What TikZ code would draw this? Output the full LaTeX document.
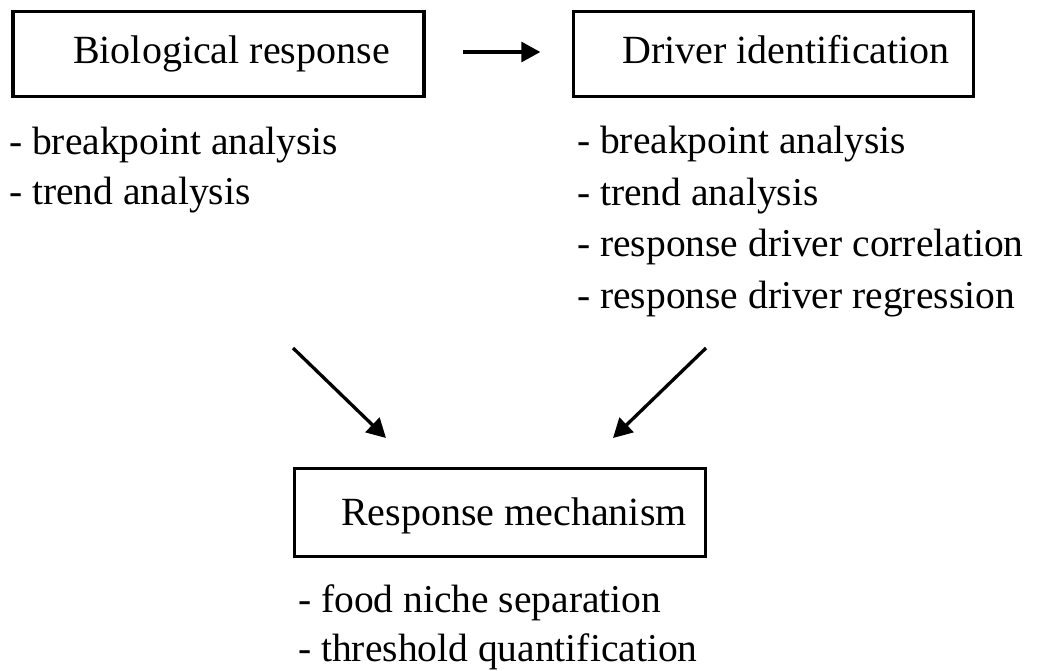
\documentclass[tikz,border=0pt]{standalone}
\usepackage{fontspec}
\setmainfont{Liberation Serif}
\usetikzlibrary{arrows.meta}
\begin{document}
\begin{tikzpicture}[x=1pt, y=-1pt,
  stagebox/.style={draw, line width=3.4pt, inner sep=0pt,
    text height=27pt, text depth=9pt,
    font=\fontsize{40}{48}\selectfont},
  items/.style={anchor=north west, align=left, inner sep=0pt,
    font=\fontsize{39.5}{51.5}\selectfont},
  flow/.style={line width=3.3pt, -{Triangle[length=19pt,width=20pt]}}]
\useasboundingbox (0,0) rectangle (1037,670);

% the three stages
\node[stagebox, minimum width=411pt, minimum height=85pt] (bio) at (218.5,54)
  {\hspace{26pt}Biological response};
\node[stagebox, minimum width=400pt, minimum height=85pt] (drv) at (773.5,54)
  {\hspace{25pt}Driver identification};
\node[stagebox, minimum width=411pt, minimum height=88pt, text depth=2pt] (mech) at (500,512.5)
  {\hspace{28pt}Response mechanism};

% methods under each stage
\node[items] (bioList) at (9,126.5)
  {- breakpoint analysis\\[-1.5pt]- trend analysis};
\node[items] (drvList) at (577,126)
  {- breakpoint analysis\\- trend analysis\\- response driver correlation\\- response driver regression};
\node[items] (mechList) at (298,584.5)
  {- food niche separation\\[-3pt]- threshold quantification};

% connectors
\draw[flow, shorten <=37pt, shorten >=31.5pt]
  ([yshift=2pt]bio.east) -- ([yshift=2pt]drv.west);
\coordinate (bioOut) at (293,348);
\coordinate (bioIn)  at (386,438);
\coordinate (drvOut) at (706,348);
\coordinate (drvIn)  at (613,438);
\draw[flow] (bioOut) -- (bioIn);
\draw[flow] (drvOut) -- (drvIn);
\end{tikzpicture}
\end{document}
